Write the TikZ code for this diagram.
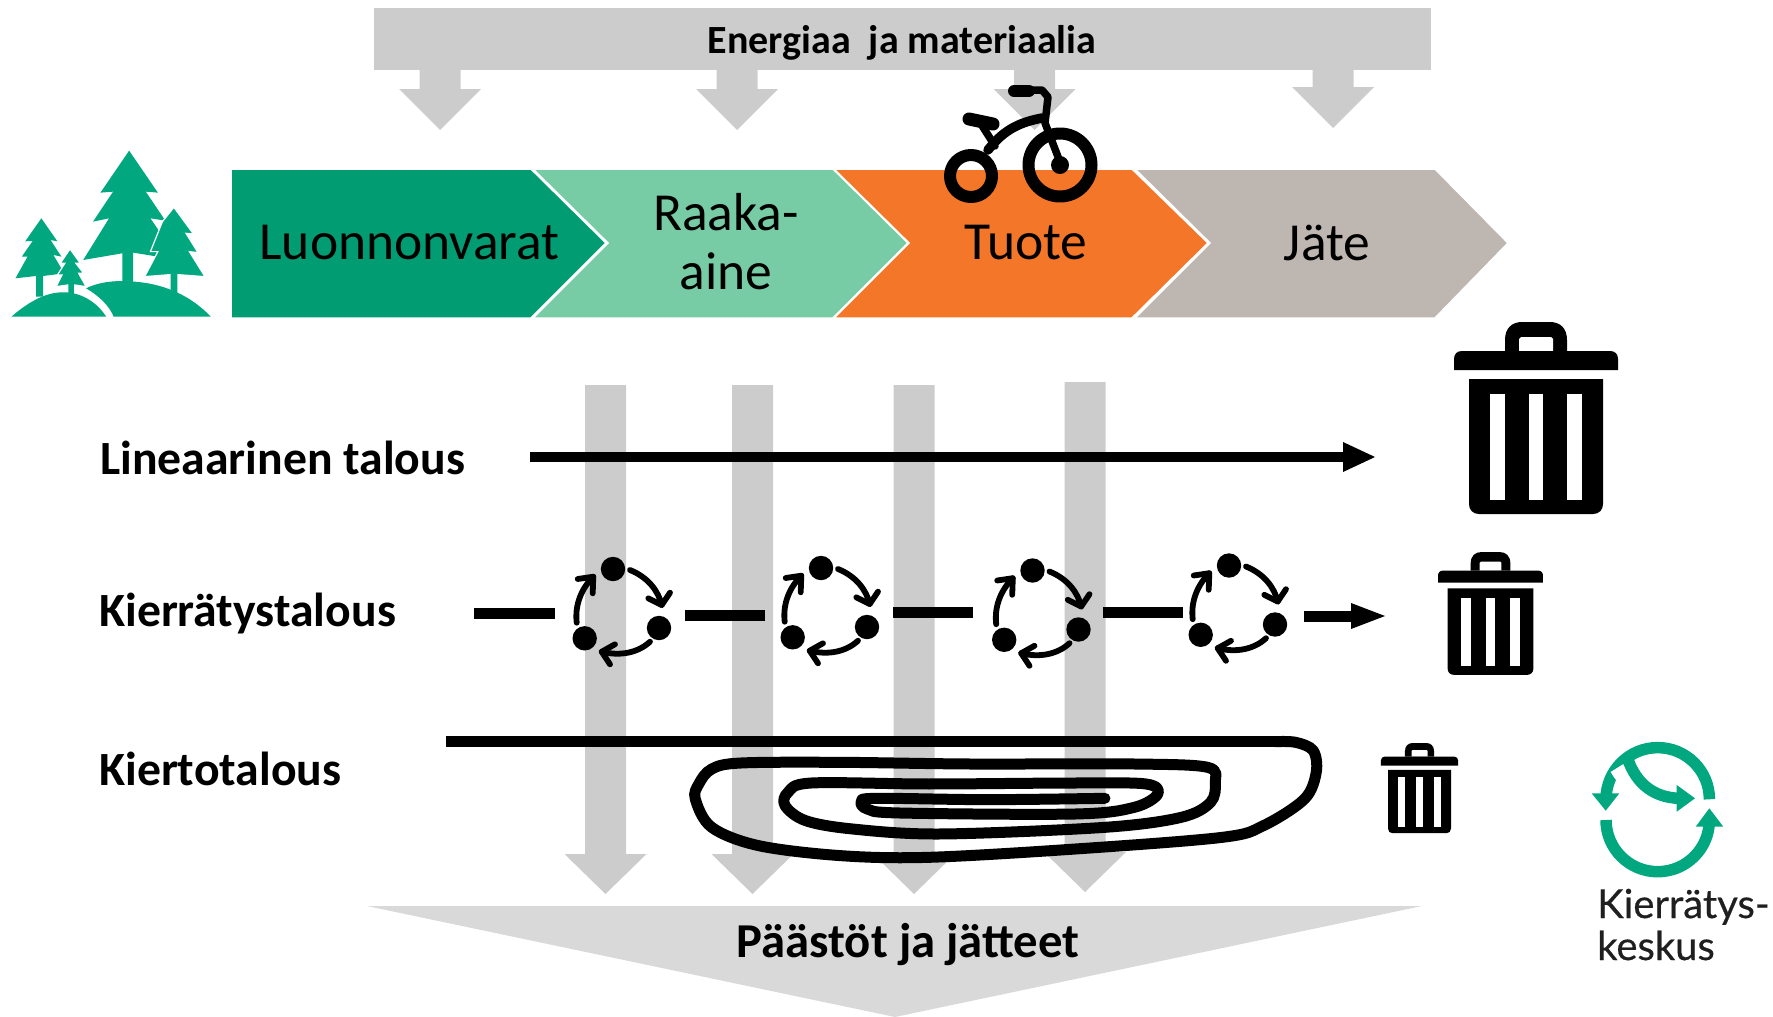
\documentclass[tikz,border=0pt]{standalone}
\usepackage{fontspec}
\setmainfont{Carlito}
\newfontfamily\logofont[FakeBold=0.5]{Lato}
\definecolor{grA}{HTML}{CCCCCC}
\definecolor{grB}{HTML}{D9D9D9}
\definecolor{chA}{HTML}{029C72}
\definecolor{chB}{HTML}{77CCA6}
\definecolor{chC}{HTML}{F47629}
\definecolor{chD}{HTML}{BEB6B0}
\definecolor{logog}{HTML}{00A77F}
\tikzset{
  chev/.style={draw=white,line width=1.5pt},
  chevtext/.style={font=\fontsize{53.5}{60}\selectfont,align=center,inner sep=0pt},
  boldtext/.style={font=\fontsize{47.7}{50}\bfseries\selectfont,anchor=west,inner sep=0pt},
  headtext/.style={font=\fontsize{40}{44}\bfseries\selectfont,inner sep=0pt},
  logotext/.style={font=\fontsize{40}{50}\logofont\selectfont,anchor=base west,inner sep=0pt,text=black!88},
  bar/.style={line width=11pt,draw=black},
  cyc/.style={line width=5.8pt,line cap=round,line join=round,draw=black},
}
\newcommand{\greyarrow}[4]{%
  \fill[grA] (#1-20.5,#3) -- (#1+20.5,#3) -- (#1+20.5,#4) -- (#1+41,#4) -- (#1,#2) -- (#1-41,#4) -- (#1-20.5,#4) -- cycle;}
\newcommand{\cycicon}[2]{%
  \begin{scope}[shift={(#1,#2)}]
    \fill (-7.5,-42.5) circle[radius=12.2pt];
    \fill (38.5,16.5) circle[radius=12.2pt];
    \fill (-35.8,26.8) circle[radius=12.2pt];
    \draw[cyc] (9.5,-41.5) .. controls (28,-34) and (38,-20) .. (41.2,-6.5);
    \draw[cyc] (27.8,-13.2) -- (41.2,-6.5) -- (49.5,-18.8);
    \draw[cyc] (29.5,30.2) .. controls (18,41) and (0,45) .. (-18.8,40.2);
    \draw[cyc] (-5.5,32.8) -- (-18.8,40.2) -- (-10.5,52.8);
    \draw[cyc] (-43.8,11.2) .. controls (-46,-8) and (-38,-24) .. (-27.2,-34.8);
    \draw[cyc] (-42.8,-32.5) -- (-27.2,-34.8) -- (-27.8,-18.2);
  \end{scope}}
\newcommand{\binicon}[3]{%
  \begin{scope}[shift={(#1,#2)},x=#3pt,y=-#3pt]
    \fill (-31,29) -- (-31,18) .. controls (-31,6) and (-24,0) .. (-14,0) -- (14,0) .. controls (24,0) and (31,6) .. (31,18) -- (31,29) -- cycle;
    \fill[white] (-17,29) -- (-17,17) -- (-15,15) -- (15,15) -- (17,17) -- (17,29) -- cycle;
    \fill (-82,48) -- (-82,37) .. controls (-82,32) and (-79,29) .. (-74,29) -- (74,29) .. controls (79,29) and (82,32) .. (82,37) -- (82,48) -- cycle;
    \fill (-67,57) -- (-67,182) .. controls (-67,188) and (-63,192) .. (-57,192) -- (57,192) .. controls (63,192) and (67,188) .. (67,182) -- (67,57) -- cycle;
    \fill[white] (-46,72) rectangle (-31,178);
    \fill[white] (-7,72) rectangle (7,178);
    \fill[white] (31,72) rectangle (46,178);
  \end{scope}}
\begin{document}
\begin{tikzpicture}[x=1pt,y=-1pt]
\useasboundingbox (0,0) rectangle (1773,1017);
\fill[grA] (374,8) rectangle (1431,70);
\greyarrow{440}{130}{69}{89}
\greyarrow{737}{130}{69}{89}
\greyarrow{1034.5}{130}{69}{89}
\greyarrow{1333}{128}{69}{87}
\node[headtext] (energy) at (902,43) {Energiaa\ \ ja materiaalia};
\path[fill=chA,chev] (231,169) -- (531,169) -- (606,243) -- (531,318) -- (231,318) -- cycle;
\path[fill=chB,chev] (533,169) -- (833,169) -- (908,243) -- (833,318) -- (533,318) -- (608,243) -- cycle;
\path[fill=chC,chev] (834,169) -- (1132,169) -- (1208,243) -- (1132,318) -- (834,318) -- (909,243) -- cycle;
\path[fill=chD,chev] (1135,169) -- (1435,169) -- (1508,243) -- (1435,318) -- (1135,318) -- (1210,243) -- cycle;
\node[chevtext] (luonto) at (409.5,243) {Luonnonvarat};
\node[chevtext,font=\fontsize{53.5}{59}\selectfont] (raaka) at (726,241.5) {Raaka-\\aine};
\node[chevtext] (tuote) at (1026,243) {Tuote};
\node[chevtext] (jate) at (1327,243) {Jäte};
\begin{scope}[shift={(0,0)},x=0.574pt,y=-0.3333pt]
  \fill[logog] (225,452) -- (275,578) -- (254,575) -- (288,662) -- (262,655) -- (278,695) -- (275,770) -- (232,758) -- (232,850) -- (213,850) -- (213,760) -- (145,780) -- (190,655) -- (162,665) -- (197,575) -- (175,578) -- cycle;
  \path[fill=logog,draw=white,line width=1.2pt] (303,622) -- (337,702) -- (324,700) -- (345,758) -- (330,755) -- (357,830) -- (310,824) -- (310,885) -- (296,870) -- (296,824) -- (252,830) -- (275,755) -- (262,755) -- (283,665) -- cycle;
  \fill[logog] (72,655) -- (100,724) -- (88,720) -- (107,770) -- (93,765) -- (112,820) -- (75,828) -- (75,890) -- (63,890) -- (63,828) -- (27,835) -- (48,770) -- (38,770) -- (57,723) -- (44,724) -- cycle;
  \path[fill=logog,draw=white,line width=1.2pt] (122,747) -- (140,790) -- (132,790) -- (146,820) -- (137,820) -- (150,860) -- (130,855) -- (130,885) -- (118,885) -- (118,855) -- (98,860) -- (108,825) -- (100,825) -- (113,790) -- (105,790) -- cycle;
  \fill[logog] (20,950) .. controls (60,890) and (90,875) .. (115,877) .. controls (145,880) and (170,910) .. (185,950) -- cycle;
  \fill[logog] (198,950) .. controls (190,915) and (170,885) .. (150,865) .. controls (180,840) and (215,840) .. (250,848) .. controls (300,860) and (340,900) .. (367,950) -- cycle;
\end{scope}
\greyarrow{605.5}{894}{385}{854}
\greyarrow{752.5}{894}{385}{854}
\greyarrow{914}{894}{385}{854}
\greyarrow{1085}{892}{382}{852}
\fill[grB] (367,906) -- (1422,906) -- (895,1017) -- cycle;
\node[headtext,font=\fontsize{48.7}{50}\bfseries\selectfont] (paastot) at (908,945) {Päästöt ja jätteet};
\begin{scope}[line cap=round,line join=round]
  \draw[line width=12pt] (971,176) circle[radius=21pt];
  \draw[line width=12pt] (1060,165) circle[radius=31.5pt];
  \fill (1060,165) circle[radius=9pt];
  \draw[line width=7.5pt] (1060,162) -- (1045,123) -- (1048,97) -- (1042,90) -- (1025,90);
  \draw[line width=12pt] (1014,91) -- (1029,91);
  \draw[line width=9.5pt] (988,150) .. controls (1005,128) and (1022,122) .. (1042,118);
  \draw[line width=7.5pt] (981,124) -- (995,146);
  \draw[line width=13pt] (969,119) -- (993,124);
\end{scope}
\node[boldtext] (lin) at (100,458) {Lineaarinen talous};
\coordinate (linA) at (530,457);
\coordinate (linB) at (1347,457);
\draw[line width=10pt] (linA) -- (linB);
\fill (1343,442) -- (1375,457) -- (1343,472) -- cycle;
\binicon{1536}{322}{1}
\node[boldtext] (kier) at (99,614) {Kierrätystalous};
\cycicon{620.5}{611.5}
\cycicon{828.5}{610.5}
\cycicon{1040}{613}
\cycicon{1236.5}{608}
\draw[bar] (474,613) -- (555,613);
\draw[bar] (685,615) -- (765,615);
\draw[bar] (893,612) -- (973,612);
\draw[bar] (1103,612) -- (1183,612);
\draw[bar] (1304,616) -- (1355,616);
\fill (1351,603) -- (1385,616) -- (1351,629) -- cycle;
\binicon{1490.5}{552}{0.64}
\node[boldtext] (kierto) at (99,769) {Kiertotalous};
\draw[line width=11pt] (446,741) -- (1290,741);
\begin{scope}[shift={(430,709)},x=0.5869pt,y=-0.3333pt]
  \draw[line width=11pt,line cap=round,line join=round] plot[smooth,tension=0.55] coordinates {
   (1440,98) (1475,100) (1505,125) (1510,190) (1490,270) (1420,350) (1350,385) (1100,420) (850,445) (700,440) (560,410) (480,355) (452,270) (458,225) (480,180) (530,162) (700,160) (920,165) (1200,165) (1325,175) (1338,220) (1330,280) (1280,325) (1150,355) (870,375) (720,360) (640,335) (605,290) (610,250) (650,222) (850,225) (1100,222) (1220,225) (1240,255) (1200,295) (1100,315) (800,312) (745,300) (735,278) (760,268) (950,272) (1150,268)};
\end{scope}
\binicon{1419.5}{743}{0.47}
\fill[logog] (1591.7,793.3) -- (1619.3,793.3) -- (1605.7,810.7) -- cycle;
\fill[logog] (1695.7,826.7) -- (1723.3,826.7) -- (1709.3,808.3) -- cycle;
\draw[logog,line width=11.5pt] (1709.4,799.3) arc[start angle=0,end angle=180,radius=51.7pt];
\draw[logog,line width=11.5pt] (1606,820) arc[start angle=180,end angle=360,radius=51.7pt];
\draw[white,line width=15pt] (1617,768) .. controls (1630,790) and (1645,795) .. (1660,797);
\draw[logog,line width=11.5pt] (1627,757) .. controls (1636.7,786.7) and (1656.7,797.3) .. (1678.3,798.3);
\fill[logog] (1676.7,785) -- (1695,798.3) -- (1676.7,811.7) -- cycle;
\node[logotext] (logoA) at (1597,918) {Kierrätys-};
\node[logotext] (logoB) at (1597,960) {keskus};
\end{tikzpicture}
\end{document}
